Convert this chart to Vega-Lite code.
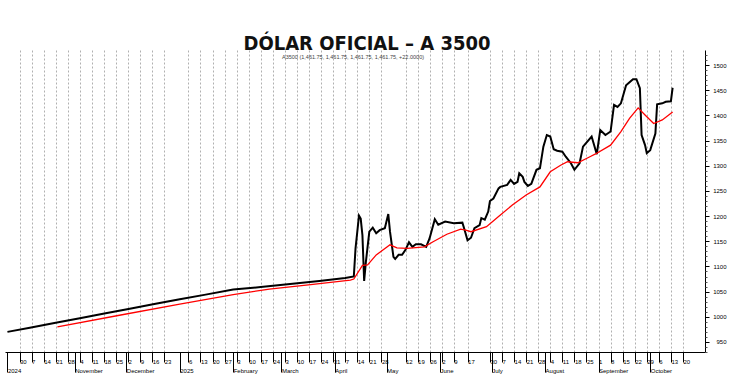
{
  "$schema": "https://vega.github.io/schema/vega-lite/v6.json",
  "width": 700,
  "height": 302,
  "autosize": "none",
  "padding": {"left": 5, "top": 50, "right": 36, "bottom": 26},
  "background": "white",
  "title": {
    "text": "DÓLAR OFICIAL – A 3500",
    "subtitle": "A3500 (1,461.75, 1,461.75, 1,461.75, 1,461.75, +22.0000)\u2800\u2800\u2800\u2800\u2800\u2800\u2800",
    "font": "DejaVu Sans Condensed",
    "fontSize": 20,
    "fontWeight": "bold",
    "color": "#111111",
    "anchor": "middle",
    "dx": 12,
    "offset": -10,
    "subtitleFont": "Liberation Sans",
    "subtitleFontSize": 5.5,
    "subtitleColor": "#444444",
    "subtitlePadding": 1
  },
  "config": {
    "view": {"stroke": null},
    "axis": {"labelFont": "Liberation Sans", "labelFontSize": 6, "labelColor": "#000000", "titleFontSize": 0}
  },
  "datasets": {
    "black": [
      {"d": "2024-09-23", "v": 970}, {"d": "2024-10-06", "v": 978}, {"d": "2024-10-21", "v": 988},
      {"d": "2024-11-04", "v": 997}, {"d": "2024-11-19", "v": 1007}, {"d": "2024-12-03", "v": 1016},
      {"d": "2024-12-18", "v": 1026}, {"d": "2025-01-01", "v": 1035}, {"d": "2025-01-16", "v": 1044},
      {"d": "2025-02-01", "v": 1054}, {"d": "2025-02-17", "v": 1059}, {"d": "2025-03-06", "v": 1065},
      {"d": "2025-03-23", "v": 1071}, {"d": "2025-04-07", "v": 1077}, {"d": "2025-04-12", "v": 1080},
      {"d": "2025-04-13", "v": 1136}, {"d": "2025-04-15", "v": 1201}, {"d": "2025-04-16", "v": 1195},
      {"d": "2025-04-17", "v": 1162}, {"d": "2025-04-18", "v": 1071}, {"d": "2025-04-19", "v": 1109},
      {"d": "2025-04-21", "v": 1169}, {"d": "2025-04-23", "v": 1177}, {"d": "2025-04-25", "v": 1166},
      {"d": "2025-04-27", "v": 1172}, {"d": "2025-04-30", "v": 1176}, {"d": "2025-05-02", "v": 1204},
      {"d": "2025-05-03", "v": 1169}, {"d": "2025-05-05", "v": 1119}, {"d": "2025-05-06", "v": 1115},
      {"d": "2025-05-08", "v": 1123}, {"d": "2025-05-10", "v": 1123}, {"d": "2025-05-12", "v": 1133},
      {"d": "2025-05-14", "v": 1148}, {"d": "2025-05-16", "v": 1139}, {"d": "2025-05-18", "v": 1144},
      {"d": "2025-05-21", "v": 1144}, {"d": "2025-05-24", "v": 1139}, {"d": "2025-05-26", "v": 1156},
      {"d": "2025-05-29", "v": 1194}, {"d": "2025-05-31", "v": 1183}, {"d": "2025-06-04", "v": 1189},
      {"d": "2025-06-09", "v": 1186}, {"d": "2025-06-14", "v": 1187}, {"d": "2025-06-15", "v": 1176},
      {"d": "2025-06-17", "v": 1152}, {"d": "2025-06-19", "v": 1157}, {"d": "2025-06-21", "v": 1176},
      {"d": "2025-06-24", "v": 1182}, {"d": "2025-06-25", "v": 1196}, {"d": "2025-06-27", "v": 1193},
      {"d": "2025-06-29", "v": 1209}, {"d": "2025-06-30", "v": 1230}, {"d": "2025-07-02", "v": 1235},
      {"d": "2025-07-05", "v": 1255}, {"d": "2025-07-06", "v": 1258}, {"d": "2025-07-10", "v": 1262},
      {"d": "2025-07-12", "v": 1272}, {"d": "2025-07-14", "v": 1264}, {"d": "2025-07-16", "v": 1268},
      {"d": "2025-07-17", "v": 1285}, {"d": "2025-07-19", "v": 1278}, {"d": "2025-07-20", "v": 1268},
      {"d": "2025-07-22", "v": 1260}, {"d": "2025-07-24", "v": 1264}, {"d": "2025-07-27", "v": 1292},
      {"d": "2025-07-29", "v": 1295}, {"d": "2025-07-31", "v": 1338}, {"d": "2025-08-02", "v": 1361},
      {"d": "2025-08-04", "v": 1358}, {"d": "2025-08-06", "v": 1333}, {"d": "2025-08-08", "v": 1330},
      {"d": "2025-08-11", "v": 1328}, {"d": "2025-08-13", "v": 1318}, {"d": "2025-08-16", "v": 1305},
      {"d": "2025-08-18", "v": 1292}, {"d": "2025-08-21", "v": 1305}, {"d": "2025-08-23", "v": 1338},
      {"d": "2025-08-28", "v": 1358}, {"d": "2025-08-31", "v": 1323}, {"d": "2025-09-02", "v": 1371},
      {"d": "2025-09-05", "v": 1361}, {"d": "2025-09-08", "v": 1368}, {"d": "2025-09-10", "v": 1421},
      {"d": "2025-09-12", "v": 1417}, {"d": "2025-09-14", "v": 1424}, {"d": "2025-09-17", "v": 1460},
      {"d": "2025-09-19", "v": 1466}, {"d": "2025-09-21", "v": 1472}, {"d": "2025-09-23", "v": 1472},
      {"d": "2025-09-25", "v": 1454}, {"d": "2025-09-26", "v": 1361}, {"d": "2025-09-28", "v": 1341},
      {"d": "2025-09-29", "v": 1325}, {"d": "2025-10-01", "v": 1331}, {"d": "2025-10-04", "v": 1364},
      {"d": "2025-10-05", "v": 1422}, {"d": "2025-10-08", "v": 1424}, {"d": "2025-10-10", "v": 1427},
      {"d": "2025-10-13", "v": 1428}, {"d": "2025-10-14", "v": 1455}
    ],
    "red": [
      {"d": "2024-10-22", "v": 980}, {"d": "2024-11-27", "v": 1003}, {"d": "2025-01-01", "v": 1025},
      {"d": "2025-02-01", "v": 1044}, {"d": "2025-02-22", "v": 1055}, {"d": "2025-03-18", "v": 1064},
      {"d": "2025-04-10", "v": 1073}, {"d": "2025-04-12", "v": 1075}, {"d": "2025-04-17", "v": 1102},
      {"d": "2025-04-20", "v": 1103}, {"d": "2025-04-25", "v": 1123}, {"d": "2025-05-03", "v": 1143},
      {"d": "2025-05-07", "v": 1137}, {"d": "2025-05-13", "v": 1136}, {"d": "2025-05-23", "v": 1139},
      {"d": "2025-05-28", "v": 1149}, {"d": "2025-06-05", "v": 1164}, {"d": "2025-06-13", "v": 1174},
      {"d": "2025-06-16", "v": 1172}, {"d": "2025-06-19", "v": 1169}, {"d": "2025-06-28", "v": 1179},
      {"d": "2025-07-05", "v": 1199}, {"d": "2025-07-13", "v": 1222}, {"d": "2025-07-21", "v": 1242},
      {"d": "2025-07-29", "v": 1258}, {"d": "2025-08-04", "v": 1288}, {"d": "2025-08-10", "v": 1301},
      {"d": "2025-08-14", "v": 1308}, {"d": "2025-08-20", "v": 1306}, {"d": "2025-08-27", "v": 1318},
      {"d": "2025-08-30", "v": 1323}, {"d": "2025-09-08", "v": 1341}, {"d": "2025-09-14", "v": 1368},
      {"d": "2025-09-19", "v": 1394}, {"d": "2025-09-24", "v": 1415}, {"d": "2025-09-28", "v": 1401},
      {"d": "2025-10-03", "v": 1384}, {"d": "2025-10-08", "v": 1391}, {"d": "2025-10-14", "v": 1407}
    ]
  },
  "resolve": {"axis": {"x": "independent", "y": "independent"}},
  "layer": [
    {
      "data": {"name": "black"},
      "mark": {"type": "line", "color": "#000000", "strokeWidth": 2, "interpolate": "linear"},
      "encoding": {
        "x": {
          "field": "d", "type": "temporal",
          "scale": {"type": "utc", "domain": [
            {"year": 2024, "month": 9, "date": 21, "hours": 14, "utc": true},
            {"year": 2025, "month": 11, "date": 1, "hours": 19, "utc": true}
          ]},
          "axis": {
            "orient": "bottom",
            "title": null,
            "values": [
              {"year": 2024, "month": 9, "date": 30, "utc": true},
              {"year": 2024, "month": 10, "date": 7, "utc": true},
              {"year": 2024, "month": 10, "date": 14, "utc": true},
              {"year": 2024, "month": 10, "date": 21, "utc": true},
              {"year": 2024, "month": 10, "date": 28, "utc": true},
              {"year": 2024, "month": 11, "date": 4, "utc": true},
              {"year": 2024, "month": 11, "date": 11, "utc": true},
              {"year": 2024, "month": 11, "date": 18, "utc": true},
              {"year": 2024, "month": 11, "date": 25, "utc": true},
              {"year": 2024, "month": 12, "date": 2, "utc": true},
              {"year": 2024, "month": 12, "date": 9, "utc": true},
              {"year": 2024, "month": 12, "date": 16, "utc": true},
              {"year": 2024, "month": 12, "date": 23, "utc": true},
              {"year": 2025, "month": 1, "date": 6, "utc": true},
              {"year": 2025, "month": 1, "date": 13, "utc": true},
              {"year": 2025, "month": 1, "date": 20, "utc": true},
              {"year": 2025, "month": 1, "date": 27, "utc": true},
              {"year": 2025, "month": 2, "date": 3, "utc": true},
              {"year": 2025, "month": 2, "date": 10, "utc": true},
              {"year": 2025, "month": 2, "date": 17, "utc": true},
              {"year": 2025, "month": 2, "date": 24, "utc": true},
              {"year": 2025, "month": 3, "date": 3, "utc": true},
              {"year": 2025, "month": 3, "date": 10, "utc": true},
              {"year": 2025, "month": 3, "date": 17, "utc": true},
              {"year": 2025, "month": 3, "date": 24, "utc": true},
              {"year": 2025, "month": 3, "date": 31, "utc": true},
              {"year": 2025, "month": 4, "date": 7, "utc": true},
              {"year": 2025, "month": 4, "date": 14, "utc": true},
              {"year": 2025, "month": 4, "date": 21, "utc": true},
              {"year": 2025, "month": 4, "date": 28, "utc": true},
              {"year": 2025, "month": 5, "date": 12, "utc": true},
              {"year": 2025, "month": 5, "date": 19, "utc": true},
              {"year": 2025, "month": 5, "date": 26, "utc": true},
              {"year": 2025, "month": 6, "date": 2, "utc": true},
              {"year": 2025, "month": 6, "date": 9, "utc": true},
              {"year": 2025, "month": 6, "date": 17, "utc": true},
              {"year": 2025, "month": 6, "date": 30, "utc": true},
              {"year": 2025, "month": 7, "date": 7, "utc": true},
              {"year": 2025, "month": 7, "date": 14, "utc": true},
              {"year": 2025, "month": 7, "date": 21, "utc": true},
              {"year": 2025, "month": 7, "date": 28, "utc": true},
              {"year": 2025, "month": 8, "date": 4, "utc": true},
              {"year": 2025, "month": 8, "date": 11, "utc": true},
              {"year": 2025, "month": 8, "date": 18, "utc": true},
              {"year": 2025, "month": 8, "date": 25, "utc": true},
              {"year": 2025, "month": 9, "date": 1, "utc": true},
              {"year": 2025, "month": 9, "date": 8, "utc": true},
              {"year": 2025, "month": 9, "date": 15, "utc": true},
              {"year": 2025, "month": 9, "date": 22, "utc": true},
              {"year": 2025, "month": 9, "date": 29, "utc": true},
              {"year": 2025, "month": 10, "date": 6, "utc": true},
              {"year": 2025, "month": 10, "date": 13, "utc": true},
              {"year": 2025, "month": 10, "date": 20, "utc": true}
            ],
            "labelExpr": "'' + utcdate(datum.value)",
            "labelAlign": "left",
            "labelBaseline": "top",
            "labelDx": 1.5,
            "labelPadding": -4,
            "labelFlush": false,
            "labelOverlap": false,
            "labelBound": false,
            "tickSize": 10,
            "tickColor": "#000000",
            "domainColor": "#000000",
            "grid": true,
            "gridColor": "#b0b0b0",
            "gridDash": [2, 2],
            "gridWidth": 1
          }
        },
        "y": {
          "field": "v", "type": "quantitative",
          "scale": {"domain": [930, 1530], "nice": false, "zero": false},
          "axis": {
            "orient": "right",
            "title": null,
            "format": "d",
            "values": [950, 1000, 1050, 1100, 1150, 1200, 1250, 1300, 1350, 1400, 1450, 1500],
            "labelAlign": "right",
            "labelPadding": 17,
            "tickSize": 4,
            "tickColor": "#000000",
            "domainColor": "#000000",
            "grid": false
          }
        }
      }
    },
    {
      "data": {"name": "red"},
      "mark": {"type": "line", "color": "#ff0000", "strokeWidth": 1.3, "interpolate": "linear"},
      "encoding": {
        "x": {
          "field": "d", "type": "temporal",
          "axis": {
            "orient": "bottom",
            "title": null,
            "values": [
              {"year": 2024, "month": 9, "date": 23, "utc": true},
              {"year": 2024, "month": 11, "date": 1, "utc": true},
              {"year": 2024, "month": 12, "date": 1, "utc": true},
              {"year": 2025, "month": 1, "date": 1, "utc": true},
              {"year": 2025, "month": 2, "date": 1, "utc": true},
              {"year": 2025, "month": 3, "date": 1, "utc": true},
              {"year": 2025, "month": 4, "date": 1, "utc": true},
              {"year": 2025, "month": 5, "date": 1, "utc": true},
              {"year": 2025, "month": 6, "date": 1, "utc": true},
              {"year": 2025, "month": 7, "date": 1, "utc": true},
              {"year": 2025, "month": 8, "date": 1, "utc": true},
              {"year": 2025, "month": 9, "date": 1, "utc": true},
              {"year": 2025, "month": 10, "date": 1, "utc": true}
            ],
            "labelExpr": "utcmonth(datum.value) == 8 && utcyear(datum.value) == 2024 ? '2024' : (utcmonth(datum.value) == 0 ? utcFormat(datum.value, '%Y') : utcFormat(datum.value, '%B'))",
            "labelAlign": "left",
            "labelBaseline": "top",
            "labelDx": 1.5,
            "labelPadding": -5,
            "labelFlush": false,
            "labelOverlap": false,
            "labelBound": false,
            "tickSize": 20,
            "tickColor": "#000000",
            "domain": false,
            "grid": false
          }
        },
        "y": {
          "field": "v", "type": "quantitative",
          "axis": {
            "orient": "right",
            "title": null,
            "values": [930, 940, 960, 970, 980, 990, 1010, 1020, 1030, 1040, 1060, 1070, 1080, 1090, 1110, 1120, 1130, 1140, 1160, 1170, 1180, 1190, 1210, 1220, 1230, 1240, 1260, 1270, 1280, 1290, 1310, 1320, 1330, 1340, 1360, 1370, 1380, 1390, 1410, 1420, 1430, 1440, 1460, 1470, 1480, 1490, 1510, 1520],
            "labels": false,
            "tickSize": 2,
            "tickColor": "#555555",
            "domain": false,
            "grid": false
          }
        }
      }
    }
  ]
}
